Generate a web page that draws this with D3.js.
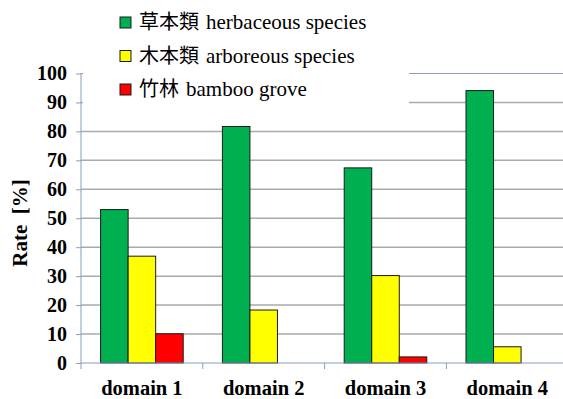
<!DOCTYPE html>
<html>
<head>
<meta charset="utf-8">
<script src="https://cdn.jsdelivr.net/npm/d3@7"></script>
<style>
  html, body { margin: 0; padding: 0; background: #fff; }
  svg { display: block; }
</style>
</head>
<body>
<svg id="chart" width="563" height="399"></svg>
<script>
// Share of vegetation type per domain
const categories = ["domain 1", "domain 2", "domain 3", "domain 4"];
const seriesCjk = ["草本類", "木本類", "竹林"];
const seriesLatin = ["herbaceous species", "arboreous species", "bamboo grove"];
const herbaceous = [53.0, 81.7, 67.4, 94.1];
const arboreous = [36.9, 18.3, 30.2, 5.6];
const bamboo = [10.1, 0, 2.1, 0];
const yTicks = [0, 10, 20, 30, 40, 50, 60, 70, 80, 90, 100];
const colors = ["#00B050", "#FFFF00", "#FF0000"];

const seriesValues = [herbaceous, arboreous, bamboo];
const svg = d3.select("#chart");
const axisColor = "#8A9CB8";
const serifFont = "'Liberation Serif'";
const cjkFont = "'Noto Sans CJK JP'";

const plotLeft = 81, plotTop = 73.5, plotBottom = 363;
const bandW = 121.8;
const x = d3.scaleBand().domain(categories).range([plotLeft, plotLeft + bandW * categories.length]);
const y = d3.scaleLinear().domain([0, 100]).range([plotBottom, plotTop]);
const inner = d3.scaleBand().domain(d3.range(seriesValues.length))
  .range([19.6, x.bandwidth() - 19.6]);

// horizontal gridlines (the top one uses the axis colour)
svg.append("g").selectAll("line")
  .data(yTicks.filter(t => t > 0))
  .join("line")
  .attr("x1", plotLeft).attr("x2", 563)
  .attr("y1", d => y(d)).attr("y2", d => y(d))
  .attr("stroke", d => d === 100 ? axisColor : "#AAAAAA")
  .attr("stroke-width", d => d === 100 ? 1 : 1.5);

// legend backdrop over the upper plot area
svg.append("rect")
  .attr("x", 83).attr("y", 0).attr("width", 326).attr("height", 112)
  .attr("fill", "#fff");

// bars
const groups = svg.append("g").selectAll("g")
  .data(categories)
  .join("g")
  .attr("transform", d => `translate(${x(d)},0)`);

groups.selectAll("rect")
  .data((c, ci) => seriesValues.map((vals, si) => ({ si, v: vals[ci] })).filter(d => d.v > 0))
  .join("rect")
  .attr("x", d => inner(d.si))
  .attr("width", inner.bandwidth())
  .attr("y", d => y(d.v))
  .attr("height", d => y(0) - y(d.v))
  .attr("fill", d => colors[d.si])
  .attr("stroke", "#1a1a1a")
  .attr("stroke-width", 1);

// y axis
const yAxis = svg.append("g")
  .attr("transform", `translate(${plotLeft},0)`)
  .call(d3.axisLeft(y).tickValues(yTicks).tickSize(5).tickPadding(9).tickFormat(d3.format("d")));
yAxis.attr("font-family", null).attr("font-size", null);
yAxis.select(".domain").attr("stroke", axisColor).attr("d", `M0,${plotTop}V${plotBottom}`);
yAxis.selectAll(".tick line").attr("stroke", axisColor);
yAxis.selectAll(".tick text")
  .style("font-family", serifFont).style("font-weight", "bold").style("font-size", "20px")
  .attr("fill", "#000");

// x axis
svg.append("line")
  .attr("x1", plotLeft).attr("x2", 563).attr("y1", plotBottom).attr("y2", plotBottom)
  .attr("stroke", axisColor).attr("stroke-width", 1.2);
svg.append("g").selectAll("line")
  .data(categories)
  .join("line")
  .attr("x1", d => x(d)).attr("x2", d => x(d))
  .attr("y1", plotBottom).attr("y2", plotBottom + 6)
  .attr("stroke", axisColor);
svg.append("g").selectAll("text")
  .data(categories)
  .join("text")
  .attr("x", d => x(d) + x.bandwidth() / 2)
  .attr("y", 394.5)
  .attr("text-anchor", "middle")
  .style("font-family", serifFont).style("font-weight", "bold").style("font-size", "20.5px")
  .text(d => d);

// y axis title
svg.append("text")
  .attr("transform", "translate(27,223) rotate(-90)")
  .attr("text-anchor", "middle")
  .style("font-family", serifFont).style("font-weight", "bold").style("font-size", "21px")
  .style("white-space", "pre")
  .text("Rate  [%]");

// legend swatches
const legendRows = seriesCjk.map((c, i) => ({ i, cjk: c, latin: seriesLatin[i], y: 17 + i * 33.5 }));
svg.append("g").selectAll("rect")
  .data(legendRows)
  .join("rect")
  .attr("x", 120).attr("y", d => d.y)
  .attr("width", 11).attr("height", 11)
  .attr("fill", d => colors[d.i])
  .attr("stroke", "#1a1a1a").attr("stroke-width", 1);

// CJK part of each legend label
const cjkLabels = svg.append("g").selectAll("text")
  .data(legendRows)
  .join("text")
  .attr("x", 139).attr("y", d => d.y + 12)
  .style("font-family", cjkFont).style("font-size", "20px")
  .text(d => d.cjk);

// English part in the serif face, placed after the CJK text
const widths = cjkLabels.nodes().map(n => n.getComputedTextLength());
svg.append("g").selectAll("text")
  .data(legendRows)
  .join("text")
  .attr("x", d => 139 + widths[d.i] + 7).attr("y", d => d.y + 12)
  .attr("font-family", "Liberation Serif")
  .style("font-family", serifFont).style("font-weight", "normal").style("font-size", "21px")
  .text(d => d.latin);
</script>
</body>
</html>
